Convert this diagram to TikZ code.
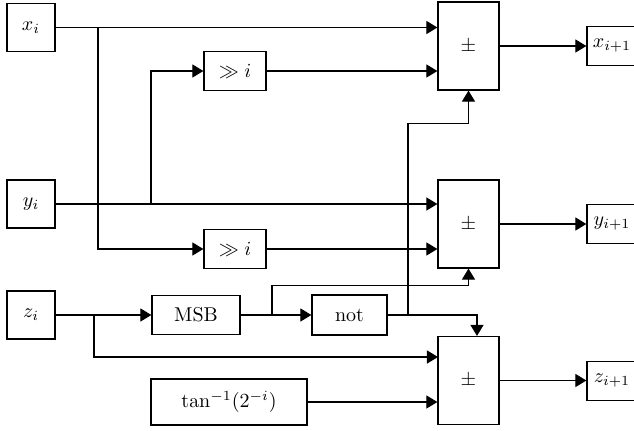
\documentclass[tikz,border=0pt]{standalone}
\usepackage{amsmath}
\usetikzlibrary{arrows.meta, positioning, calc}

\begin{document}
\begin{tikzpicture}[
    x=0.5pt, y=-0.5pt,
    box/.style={rectangle, draw, line width=0.6pt, inner sep=0pt, minimum width=24pt, minimum height=24pt},
    opbox/.style={rectangle, draw, line width=0.6pt, inner sep=0pt, minimum height=19.5pt},
    adder/.style={rectangle, draw, line width=0.6pt, inner sep=0pt, minimum width=30.5pt, minimum height=44pt},
    outbox/.style={rectangle, draw, line width=0.6pt, inner sep=0pt, minimum width=25pt, minimum height=19.5pt},
    arrow/.style={-{Triangle[length=5.5pt, width=6.5pt]}, line width=0.6pt}
]
\useasboundingbox (0,0) rectangle (634,430);

% Nodes
\node[box] (xi) at (31,27.5) {$x_i$};
\node[box] (yi) at (31,204) {$y_i$};
\node[box] (zi) at (31,315) {$z_i$};

\node[opbox, minimum width=31pt] (shx) at (235,71) {$\gg i$};
\node[opbox, minimum width=31pt] (shy) at (235,249) {$\gg i$};
\node[opbox, minimum width=44pt] (msb) at (196,315) {MSB};
\node[opbox, minimum width=37.5pt, minimum height=20pt] (nt) at (349.5,315) {not};
\node[opbox, minimum width=78pt, minimum height=23pt] (atan) at (229,402) {$\tan^{-1}(2^{-i})$};

\node[adder] (addx) at (468.5,46) {$\pm$};
\node[adder] (addy) at (468.5,224) {$\pm$};
\node[adder] (addz) at (468.5,380.5) {$\pm$};

\node[outbox] (xo) at (612,46) {$x_{i+1}$};
\node[outbox] (yo) at (612,224) {$y_{i+1}$};
\node[outbox] (zo) at (612,381) {$z_{i+1}$};

% Branch points
\coordinate (jx) at (98,27.5);
\coordinate (jy) at (151,204);
\coordinate (jz) at (94,315);
\coordinate (jm) at (272,315);
\coordinate (jn) at (408,315);
\coordinate (zin) at (438,357);

% Arrows
\draw[arrow] (xi.east) -- (xi.east -| addx.west);
\draw[arrow] (shx.east) -- (shx.east -| addx.west);
\draw[arrow] (jx) |- (shy.west);
\draw[arrow] (yi.east) -- (yi.east -| addy.west);
\draw[arrow] (jy) |- (shx.west);
\draw[arrow] (shy.east) -- (shy.east -| addy.west);

\draw[arrow] (zi.east) -- (msb.west);
\draw[arrow] (jz) |- (zin);
\draw[arrow] (msb.east) -- (nt.west);
\draw[arrow] (jm) |- ($(addy.south)+(0,17)$) -- (addy.south);
\draw[arrow] (nt.east) -| ($(addz.north)+(8.5,0)$);
\draw[arrow] (jn) |- ($(addx.south)+(0,33)$) -- (addx.south);
\draw[arrow] (atan.east) -- (atan.east -| addz.west);

\draw[arrow] (addx.east) -- (addx.east -| xo.west);
\draw[arrow] (addy.east) -- (addy.east -| yo.west);
\draw[arrow] (addz.east) -- (addz.east -| zo.west);

\end{tikzpicture}
\end{document}
